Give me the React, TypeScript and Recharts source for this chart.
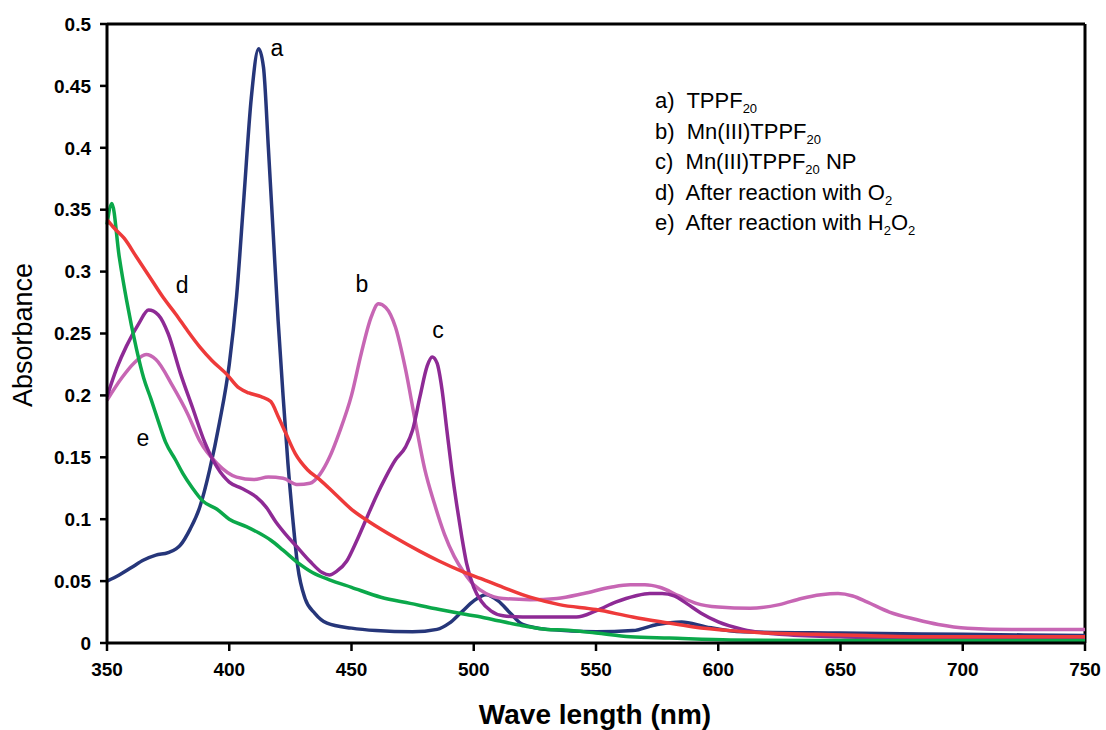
import { LineChart, Line, XAxis, YAxis, ReferenceLine, ReferenceDot } from 'recharts';

// a) TPPF20
const wlA = [350, 355, 360, 365, 370, 375, 380, 384, 388, 392, 396, 400, 403, 406, 409, 412, 414, 416, 418, 420, 422, 424, 426, 428, 431, 435, 440, 450, 460, 475, 485, 490, 495, 500, 505, 510, 515, 520, 530, 550, 565, 575, 585, 595, 610, 650, 700, 750];
const absA = [0.05, 0.055, 0.061, 0.067, 0.071, 0.073, 0.079, 0.092, 0.11, 0.14, 0.178, 0.225, 0.28, 0.36, 0.44, 0.48, 0.465, 0.4, 0.33, 0.26, 0.2, 0.145, 0.1, 0.062, 0.036, 0.024, 0.016, 0.012, 0.01, 0.009, 0.011, 0.016, 0.025, 0.034, 0.039, 0.034, 0.024, 0.015, 0.011, 0.009, 0.01, 0.015, 0.017, 0.013, 0.009, 0.008, 0.007, 0.006];

// b) Mn(III)TPPF20
const wlB = [350, 356, 361, 366, 370, 377, 383, 388, 395, 403, 410, 416, 422, 428, 433, 437, 441, 445, 450, 454, 458, 461, 464, 468, 472, 476, 480, 484, 488, 492, 496, 500, 505, 512, 523, 534, 545, 556, 564, 570, 576, 584, 591, 600, 613, 625, 634, 642, 649, 655, 661, 670, 681, 690, 702, 720, 750];
const absB = [0.196, 0.214, 0.226, 0.233, 0.229, 0.207, 0.185, 0.163, 0.145, 0.134, 0.132, 0.134, 0.133, 0.128, 0.129, 0.136, 0.15, 0.17, 0.2, 0.234, 0.263, 0.274, 0.271, 0.255, 0.222, 0.18, 0.14, 0.112, 0.088, 0.07, 0.057, 0.047, 0.04, 0.036, 0.035, 0.036, 0.04, 0.045, 0.047, 0.047, 0.045, 0.038, 0.032, 0.029, 0.028, 0.031, 0.036, 0.039, 0.04, 0.038, 0.033, 0.025, 0.019, 0.015, 0.012, 0.011, 0.011];

// c) Mn(III)TPPF20 NP
const wlC = [350, 354, 358, 363, 367, 371, 375, 380, 385, 390, 395, 400, 405, 411, 415, 419, 423, 428, 433, 438, 441, 444, 448, 452, 456, 460, 464, 468, 472, 475, 478, 481, 483, 485, 487, 489, 491, 493, 495, 497, 500, 503, 507, 512, 520, 530, 542, 550, 558, 566, 572, 577, 582, 587, 593, 600, 610, 625, 650, 680, 720, 750];
const absC = [0.199, 0.222, 0.24, 0.258, 0.269, 0.265, 0.25, 0.218, 0.19, 0.162, 0.142, 0.13, 0.125, 0.118, 0.11, 0.098, 0.088, 0.077, 0.066, 0.057, 0.055, 0.058, 0.066, 0.082, 0.1, 0.118, 0.134, 0.148, 0.158, 0.172, 0.199, 0.224, 0.231, 0.226, 0.205, 0.172, 0.14, 0.112, 0.087, 0.065, 0.045, 0.034, 0.026, 0.022, 0.021, 0.021, 0.021, 0.026, 0.033, 0.038, 0.04, 0.04, 0.038, 0.032, 0.024, 0.017, 0.011, 0.007, 0.005, 0.004, 0.003, 0.003];

// d) After reaction with O2
const wlD = [350, 353, 357, 362, 368, 373, 378, 383, 388, 393, 399, 404, 408, 413, 417, 420, 423, 427, 432, 437, 443, 450, 458, 468, 478, 486, 495, 503, 512, 523, 535, 550, 565, 577, 590, 605, 620, 640, 660, 690, 720, 750];
const absD = [0.342, 0.335, 0.327, 0.312, 0.294, 0.279, 0.266, 0.252, 0.239, 0.228, 0.217, 0.206, 0.202, 0.199, 0.195, 0.183, 0.17, 0.153, 0.14, 0.132, 0.121, 0.108, 0.097, 0.085, 0.074, 0.066, 0.058, 0.052, 0.045, 0.037, 0.031, 0.027, 0.021, 0.017, 0.013, 0.01, 0.008, 0.007, 0.006, 0.005, 0.005, 0.005];

// e) After reaction with H2O2
const wlE = [350, 352, 355, 358, 362, 365, 368, 371, 374, 378, 381, 385, 389, 395, 400, 407, 412, 417, 422, 428, 434, 441, 450, 462, 474, 486, 497, 503, 510, 520, 530, 537, 550, 564, 580, 605, 640, 680, 720, 750];
const absE = [0.338, 0.355, 0.312, 0.277, 0.238, 0.214, 0.197, 0.179, 0.162, 0.148, 0.137, 0.125, 0.115, 0.108, 0.1, 0.094, 0.089, 0.083, 0.075, 0.065, 0.057, 0.051, 0.045, 0.037, 0.032, 0.027, 0.023, 0.021, 0.018, 0.014, 0.011, 0.0105, 0.008, 0.005, 0.004, 0.0025, 0.002, 0.002, 0.002, 0.002];

const xTicks = [350, 400, 450, 500, 550, 600, 650, 700, 750];
const yTicks = [0, 0.05, 0.1, 0.15, 0.2, 0.25, 0.3, 0.35, 0.4, 0.45, 0.5];

// curve letters placed next to each trace
const curveLetters = ['a', 'b', 'c', 'd', 'e'];
const letterX = [419.5, 454.3, 485.4, 380.7, 364.7];
const letterY = [0.481, 0.29, 0.253, 0.289, 0.166];

const toPoints = (xs: number[], ys: number[]) => xs.map((x, i) => ({ nm: x, abs: ys[i] }));

const series = [
  { key: 'a', data: toPoints(wlA, absA), color: '#26367A' },
  { key: 'b', data: toPoints(wlB, absB), color: '#C766B4' },
  { key: 'c', data: toPoints(wlC, absC), color: '#8E2A95' },
  { key: 'e', data: toPoints(wlE, absE), color: '#0BA84A' },
  { key: 'd', data: toPoints(wlD, absD), color: '#EE3A3A' },
];

const font = 'Arial, "Liberation Sans", sans-serif';
const tickStyle = { fill: '#000', fontSize: 19, fontWeight: 700, fontFamily: font };
const subStyle = { fontSize: 13, position: 'relative' as const, top: 5, verticalAlign: 'baseline', lineHeight: 0 };

const App = () => {
  return (
    <div style={{ position: 'absolute', left: 0, top: 0, width: 1106, height: 730, background: '#fff', fontFamily: font }}>
      <LineChart width={1106} height={730} margin={{ top: 24, right: 21, bottom: 0, left: 0 }}>
        <XAxis
          type="number"
          dataKey="nm"
          domain={[350, 750]}
          ticks={xTicks}
          allowDuplicatedCategory={false}
          height={87}
          axisLine={{ stroke: '#000', strokeWidth: 3 }}
          tickLine={{ stroke: '#000', strokeWidth: 2.5 }}
          tickSize={8}
          tickMargin={12}
          tick={tickStyle}
        />
        <YAxis
          type="number"
          domain={[0, 0.5]}
          ticks={yTicks}
          width={107}
          axisLine={{ stroke: '#000', strokeWidth: 3 }}
          tickLine={{ stroke: '#000', strokeWidth: 2.5 }}
          tickSize={7}
          tickMargin={9}
          tick={tickStyle}
        />
        <ReferenceLine y={0.5} stroke="#000" strokeWidth={3} />
        <ReferenceLine x={750} stroke="#000" strokeWidth={3} />
        {series.map((s) => (
          <Line
            key={s.key}
            data={s.data}
            dataKey="abs"
            type="monotone"
            stroke={s.color}
            strokeWidth={3.5}
            dot={false}
            isAnimationActive={false}
          />
        ))}
        {curveLetters.map((l, i) => (
          <ReferenceDot
            key={l}
            x={letterX[i]}
            y={letterY[i]}
            r={0}
            fill="none"
            stroke="none"
            label={{ value: l, position: 'center', fill: '#000', fontSize: 23, fontFamily: font }}
          />
        ))}
      </LineChart>

      <div
        style={{
          position: 'absolute',
          left: 23,
          top: 335,
          transform: 'translate(-50%, -50%) rotate(-90deg)',
          fontSize: 27,
          whiteSpace: 'nowrap',
          color: '#000',
        }}
      >
        Absorbance
      </div>
      <div
        style={{
          position: 'absolute',
          left: 595,
          top: 715,
          transform: 'translate(-50%, -50%)',
          fontSize: 28,
          fontWeight: 700,
          whiteSpace: 'nowrap',
          color: '#000',
        }}
      >
        Wave length (nm)
      </div>

      <div style={{ position: 'absolute', left: 655, top: 86, fontSize: 22, lineHeight: '30.5px', color: '#000', whiteSpace: 'nowrap' }}>
        <div>a)&nbsp; TPPF<span style={subStyle}>20</span></div>
        <div>b)&nbsp; Mn(III)TPPF<span style={subStyle}>20</span></div>
        <div>c)&nbsp; Mn(III)TPPF<span style={subStyle}>20</span> NP</div>
        <div>d)&nbsp; After reaction with O<span style={subStyle}>2</span></div>
        <div>e)&nbsp; After reaction with H<span style={subStyle}>2</span>O<span style={subStyle}>2</span></div>
      </div>
    </div>
  );
};

export default App;
